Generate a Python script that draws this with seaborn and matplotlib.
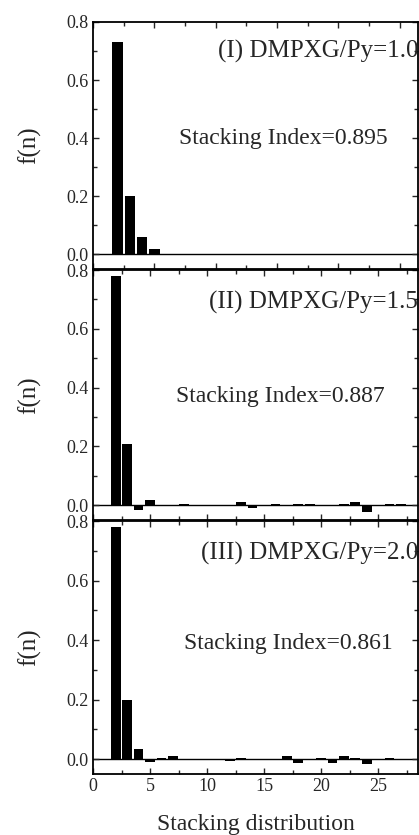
import numpy as np
import pandas as pd
import seaborn as sns
import matplotlib
matplotlib.use("Agg")
import matplotlib.pyplot as plt
from matplotlib.ticker import MultipleLocator

# ---- data ----
n1 = list(range(2, 27))
f1 = [0.73, 0.20, 0.06, 0.02, 0.001, 0.0, 0.002, 0.001, 0.001, 0.002, 0.001,
      0.002, 0.001, 0.001, 0.002, 0.002, 0.001, -0.002, 0.001, 0.001, 0.001,
      0.002, 0.001, 0.002, 0.001]

n2 = list(range(2, 28))
f2 = [0.78, 0.21, -0.016, 0.017, 0.001, 0.001, 0.004, 0.001, 0.001, 0.002,
      0.002, 0.010, -0.010, 0.001, 0.003, 0.001, 0.003, 0.003, 0.001, 0.001,
      0.003, 0.012, -0.024, -0.002, 0.003, 0.003]

n3 = list(range(2, 28))
f3 = [0.78, 0.20, 0.035, -0.011, 0.004, 0.010, 0.001, 0.001, 0.001, 0.001,
      -0.008, 0.003, 0.001, 0.001, 0.001, 0.010, -0.012, 0.001, 0.005, -0.012,
      0.010, 0.005, -0.015, 0.002, 0.003, 0.002]

titles = ["(I) DMPXG/Py=1.0", "(II) DMPXG/Py=1.5", "(III) DMPXG/Py=2.0"]
indices = ["Stacking Index=0.895", "Stacking Index=0.887", "Stacking Index=0.861"]
xmax = [26.5, 28.5, 28.5]
yticks = [0.0, 0.2, 0.4, 0.6, 0.8]
xticks = [0, 5, 10, 15, 20, 25]

sns.set_style("ticks")
plt.rcParams['font.family'] = ['Liberation Serif', 'DejaVu Serif']
plt.rcParams['axes.linewidth'] = 1.3

fig = plt.figure(figsize=(4.19, 8.35), dpi=100)
W, H = 419, 835
left, right = 93, 418
panels = [(22, 269), (270, 520), (521, 774)]

data = [(n1, f1), (n2, f2), (n3, f3)]
title_y = [0.70, 0.69, 0.69]
idx_xy = [(0.585, 0.40), (0.575, 0.37), (0.60, 0.39)]

for i, ((top, bot), (nn, ff)) in enumerate(zip(panels, data)):
    ax = fig.add_axes([left / W, 1 - bot / H, (right - left) / W, (bot - top) / H])
    df = pd.DataFrame({"n": nn, "f": ff})
    sns.barplot(data=df, x="n", y="f", native_scale=True, color="black",
                saturation=1, width=0.85, linewidth=0, errorbar=None, ax=ax)
    ax.axhline(0, color="black", lw=1.0, zorder=0)
    ax.set_xlim(0, xmax[i])
    ax.set_ylim(-0.05, 0.8)
    ax.set_yticks(yticks)
    ax.set_yticklabels([f"{v:.1f}" for v in yticks])
    ax.yaxis.set_minor_locator(MultipleLocator(0.1))
    ax.set_xticks(xticks)
    ax.xaxis.set_minor_locator(MultipleLocator(2.5))
    ax.tick_params(which="both", direction="in", top=True, right=True,
                   labelsize=13, width=1.0, pad=3)
    ax.tick_params(which="major", length=4.5)
    ax.tick_params(which="minor", length=3)
    for s in ax.spines.values():
        s.set_visible(True)
        s.set_color("black")
    ax.set_ylabel("f(n)", fontsize=18)
    ax.yaxis.set_label_coords(-0.16, 0.5)
    if i < 2:
        ax.set_xticklabels([])
        ax.set_xlabel("")
    else:
        ax.set_xticklabels([str(v) for v in xticks])
        ax.set_xlabel("Stacking distribution", fontsize=17)
        ax.xaxis.set_label_coords(0.5, -0.16)
    ax.text(xmax[i], title_y[i], titles[i], transform=ax.transData,
            ha="right", va="center", fontsize=18)
    ax.text(idx_xy[i][0] * xmax[i], idx_xy[i][1], indices[i], transform=ax.transData,
            ha="center", va="center", fontsize=17)

fig.savefig("out.png", dpi=100)
